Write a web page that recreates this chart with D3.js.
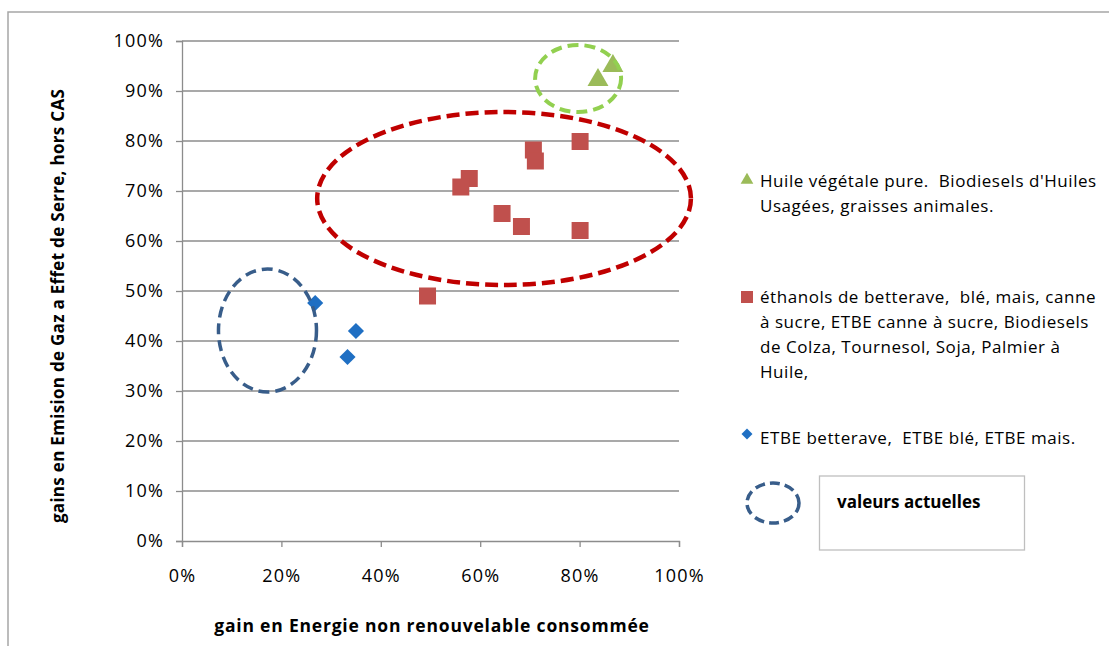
<!DOCTYPE html>
<html>
<head>
<meta charset="utf-8">
<script src="https://cdn.jsdelivr.net/npm/d3@7"></script>
<style>
  body { margin: 0; background: #fff; }
  svg { font-family: 'Open Sans', sans-serif; }
</style>
</head>
<body>
<svg id="chart" width="1109" height="646"></svg>
<script>
// values (fractions)
const greenX = [0.837, 0.867]
const greenY = [0.922, 0.950]
const redX = [0.801, 0.707, 0.711, 0.578, 0.561, 0.644, 0.683, 0.801, 0.494]
const redY = [0.799, 0.782, 0.760, 0.725, 0.708, 0.655, 0.629, 0.621, 0.490]
const blueX = [0.268, 0.350, 0.333]
const blueY = [0.476, 0.420, 0.368]

const xTicks = [0, 0.2, 0.4, 0.6, 0.8, 1]
const yTicks = [0, 0.1, 0.2, 0.3, 0.4, 0.5, 0.6, 0.7, 0.8, 0.9, 1]

// annotation ellipses, in data units: [cx, cy, rx, ry]
const greenZone = [0.797, 0.925, 0.0865, 0.067]
const redZone = [0.648, 0.685, 0.376, 0.173]
const blueZone = [0.172, 0.421, 0.0986, 0.123]

const legendLabels = [
  ["Huile végétale pure.  Biodiesels d'Huiles", "Usagées, graisses animales."],
  ["éthanols de betterave,  blé, mais, canne", "à sucre, ETBE canne à sucre, Biodiesels", "de Colza, Tournesol, Soja, Palmier à", "Huile,"],
  ["ETBE betterave,  ETBE blé, ETBE mais."]
]

const colors = {green: '#9BBB59', red: '#C0504D', blue: '#1F6FC3'}
const grid = '#8c8c8c'

const svg = d3.select('#chart')
const margin = {top: 41, left: 182}
const w = 497, h = 500

// outer frame (top and left edges visible)
svg.append('path')
  .attr('d', 'M8,646 V12 H1109')
  .attr('fill', 'none').attr('stroke', '#a6a6a6').attr('stroke-width', 1.5)

const x = d3.scaleLinear().domain([0, 1]).range([margin.left, margin.left + w])
const y = d3.scaleLinear().domain([0, 1]).range([margin.top + h, margin.top])

// horizontal gridlines
svg.append('g')
  .selectAll('line')
  .data(yTicks.slice(1))
  .join('line')
    .attr('x1', x(0)).attr('x2', x(1))
    .attr('y1', d => y(d)).attr('y2', d => y(d))
    .attr('stroke', grid).attr('stroke-width', 1.3)

const pct = d3.format('.0%')

const yAxis = svg.append('g')
  .attr('transform', 'translate(' + x(0) + ',0)')
  .call(d3.axisLeft(y).tickValues(yTicks).tickFormat(pct).tickSize(6).tickPadding(12))
yAxis.select('.domain').attr('stroke', grid).attr('stroke-width', 1.3)
yAxis.selectAll('.tick line').attr('stroke', grid).attr('stroke-width', 1.3)
yAxis.selectAll('text').attr('font-size', '18px').attr('fill', '#000')
  .attr('font-family', 'Open Sans').attr('letter-spacing', '1.2px')

const xAxis = svg.append('g')
  .attr('transform', 'translate(0,' + y(0) + ')')
  .call(d3.axisBottom(x).tickValues(xTicks).tickFormat(pct).tickSize(6).tickPadding(22))
xAxis.select('.domain').attr('stroke', grid).attr('stroke-width', 1.3)
xAxis.selectAll('.tick line').attr('stroke', grid).attr('stroke-width', 1.3)
xAxis.selectAll('text').attr('font-size', '18px').attr('fill', '#000')
  .attr('font-family', 'Open Sans').attr('letter-spacing', '1.2px')

// axis titles
svg.append('text')
  .attr('x', 432).attr('y', 632)
  .attr('text-anchor', 'middle')
  .attr('font-size', '17.5px').attr('font-weight', 'bold').attr('letter-spacing', '0.8px')
  .text('gain en Energie non renouvelable consommée')

svg.append('text')
  .attr('transform', 'translate(64,306) rotate(-90)')
  .attr('text-anchor', 'middle')
  .attr('font-size', '17px').attr('font-weight', 'bold').attr('letter-spacing', '0.3px')
  .text('gains en Emision de Gaz a Effet de Serre, hors CAS')

// points
const zip = (a, b) => a.map((v, i) => [v, b[i]])

svg.append('g')
  .selectAll('path')
  .data(zip(greenX, greenY))
  .join('path')
    .attr('transform', d => 'translate(' + x(d[0]) + ',' + y(d[1]) + ')')
    .attr('d', d3.symbol(d3.symbolTriangle, 190))
    .attr('fill', colors.green)

svg.append('g')
  .selectAll('rect')
  .data(zip(redX, redY))
  .join('rect')
    .attr('x', d => x(d[0]) - 8.5).attr('y', d => y(d[1]) - 8.5)
    .attr('width', 17).attr('height', 17)
    .attr('fill', colors.red)

svg.append('g')
  .selectAll('path')
  .data(zip(blueX, blueY))
  .join('path')
    .attr('d', d3.symbol(d3.symbolSquare, 130))
    .attr('transform', d => 'translate(' + x(d[0]) + ',' + y(d[1]) + ') rotate(45)')
    .attr('fill', colors.blue)

// dashed ellipses
const zones = [
  {z: greenZone, c: '#92D050', sw: 4, dash: '11,6'},
  {z: redZone, c: '#C00000', sw: 4.5, dash: '13,6'},
  {z: blueZone, c: '#385D8A', sw: 3.5, dash: '11,6'}
]
svg.append('g')
  .selectAll('ellipse')
  .data(zones)
  .join('ellipse')
    .attr('cx', d => x(d.z[0])).attr('cy', d => y(d.z[1]))
    .attr('rx', d => x(d.z[2]) - x(0)).attr('ry', d => y(0) - y(d.z[3]))
    .attr('fill', 'none').attr('stroke', d => d.c)
    .attr('stroke-width', d => d.sw).attr('stroke-dasharray', d => d.dash)

// legend
const legY = [181, 297, 438]
const leg = svg.append('g')
leg.append('path')
  .attr('transform', 'translate(747,' + (legY[0] - 1) + ')')
  .attr('d', d3.symbol(d3.symbolTriangle, 70)).attr('fill', colors.green)
leg.append('rect')
  .attr('x', 741).attr('y', legY[1] - 6).attr('width', 12).attr('height', 12)
  .attr('fill', colors.red)
leg.append('path')
  .attr('transform', 'translate(747,' + (legY[2] - 4) + ') rotate(45)')
  .attr('d', d3.symbol(d3.symbolSquare, 60)).attr('fill', colors.blue)

legendLabels.forEach((lines, i) => {
  leg.append('text')
    .attr('x', 760).attr('y', legY[i])
    .attr('font-size', '17px').attr('letter-spacing', '0.55px')
    .style('white-space', 'pre')
    .selectAll('tspan')
    .data(lines)
    .join('tspan')
      .attr('x', 760)
      .attr('y', (d, j) => legY[i] + j * 25)
      .attr('dy', '0.35em')
      .text(d => d)
})

// "valeurs actuelles" key
svg.append('ellipse')
  .attr('cx', 773).attr('cy', 503).attr('rx', 26).attr('ry', 20)
  .attr('fill', 'none').attr('stroke', '#385D8A')
  .attr('stroke-width', 3.5).attr('stroke-dasharray', '10,5')
svg.append('rect')
  .attr('x', 819.5).attr('y', 476).attr('width', 205).attr('height', 74)
  .attr('fill', '#fff').attr('stroke', '#bfbfbf').attr('stroke-width', 1.3)
svg.append('text')
  .attr('x', 837).attr('y', 502).attr('dy', '0.35em')
  .attr('font-size', '17px').attr('font-weight', 'bold')
  .text('valeurs actuelles')
</script>
</body>
</html>
